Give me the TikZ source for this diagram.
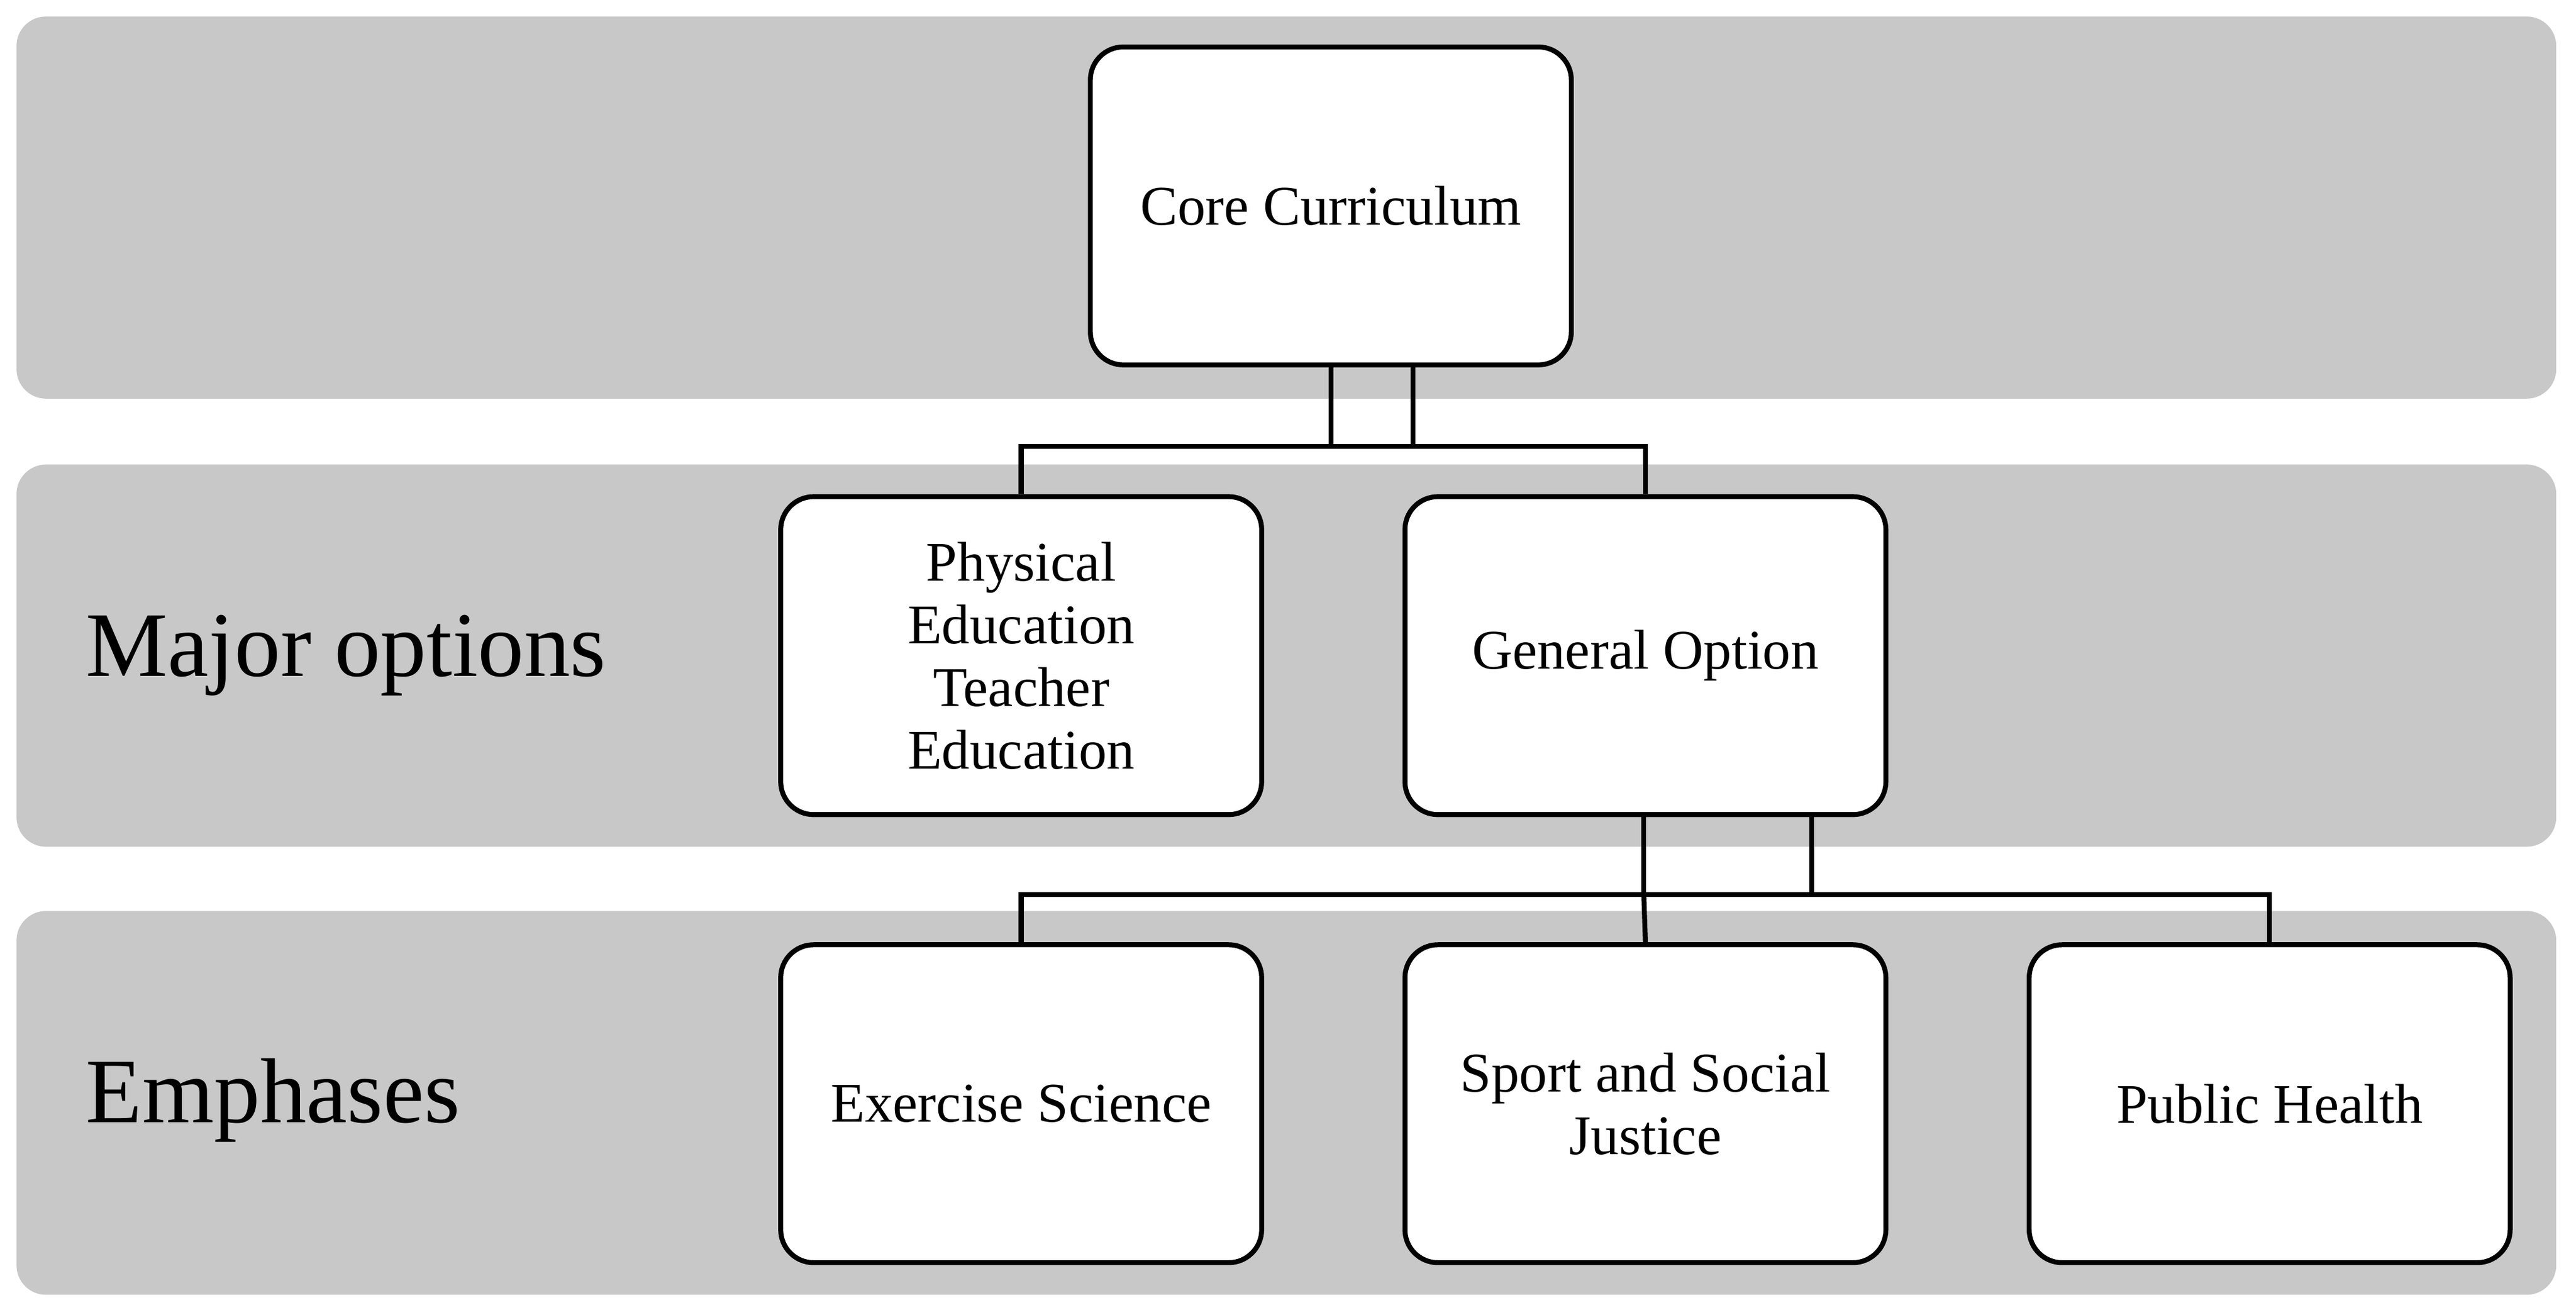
\documentclass[tikz,border=0pt]{standalone}
\usepackage{fontspec}
\setmainfont{Liberation Serif}
\begin{document}
\begin{tikzpicture}[x=1pt,y=-1pt,
  band/.style={fill=bandgray,draw=none,rounded corners=18pt},
  box/.style={draw=black,line width=3pt,fill=white,rounded corners=20pt,minimum width=292pt,minimum height=193pt,align=center,font=\fontsize{34}{38}\selectfont,inner sep=0pt},
  conn/.style={draw=black,line width=3pt},
  biglabel/.style={anchor=west,font=\fontsize{56}{60}\selectfont,inner sep=0pt}]
\definecolor{bandgray}{RGB}{200,200,200}
\useasboundingbox (0,0) rectangle (1564,798);
\fill[white] (0,0) rectangle (1564,798);
\path[band] (10,10) rectangle (1552,242);
\path[band] (10,282) rectangle (1552,514);
\path[band] (10,553) rectangle (1552,786);
\node[box] (core) at (808,125) {Core Curriculum};
\node[box] (pete) at (620,398) {Physical\\Education\\Teacher\\Education};
\node[box] (gen) at (999,398) {General Option};
\node[box] (ex) at (620,670) {Exercise Science};
\node[box] (ssj) at (999,670) {Sport and Social\\Justice};
\node[box] (ph) at (1378,670) {Public Health};
\node[biglabel] (mo) at (52,398) {Major options};
\node[biglabel] (em) at (52,668) {Emphases};
\coordinate (c1) at (808,271);
\coordinate (c2) at (858,271);
\coordinate (g1) at (998,543);
\coordinate (g2) at (1100,543);
\draw[conn] (core.south -| c1) -- (c1) -- (c2) -- (core.south -| c2);
\draw[conn] (pete.north) -- (pete.north |- c1) -- (gen.north |- c1) -- (gen.north);
\draw[conn] (gen.south -| g1) -- (g1);
\draw[conn] (gen.south -| g2) -- (g2);
\draw[conn] (ex.north) -- (ex.north |- g1) -- (ph.north |- g1) -- (ph.north);
\draw[conn] (g1) -- (ssj.north);
\end{tikzpicture}
\end{document}
